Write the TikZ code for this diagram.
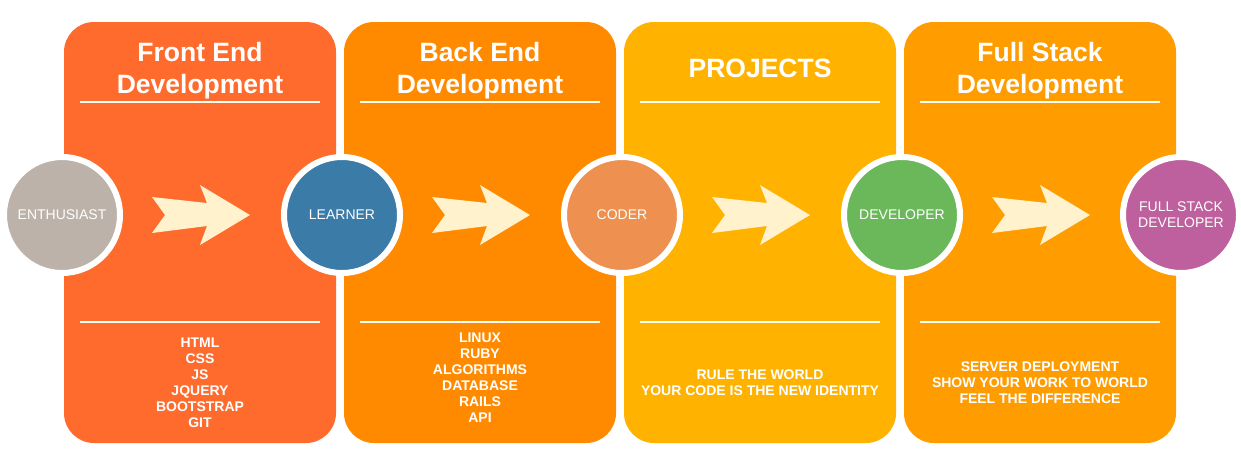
\documentclass[tikz,border=0pt]{standalone}
\usepackage{fontspec}
\setmainfont{Liberation Sans}
\begin{document}
\definecolor{frontc}{HTML}{FF6B2C}
\definecolor{backc}{HTML}{FF8A00}
\definecolor{projc}{HTML}{FFB200}
\definecolor{fullc}{HTML}{FF9C00}
\definecolor{enthc}{HTML}{BCB2A9}
\definecolor{learnc}{HTML}{3A7BA8}
\definecolor{coderc}{HTML}{EE9150}
\definecolor{devc}{HTML}{6BB85A}
\definecolor{fsdc}{HTML}{BE609E}
\definecolor{arrowc}{HTML}{FFF2CC}
\begin{tikzpicture}[x=1pt,y=-1pt,
  panel/.style={rounded corners=30pt, minimum width=272pt, minimum height=421pt, inner sep=0pt},
  title/.style={text=white, font=\fontsize{26.5}{32}\selectfont\bfseries, anchor=base},
  rule/.style={draw=white!95!yellow, line width=2pt},
  items/.style={text=white, font=\fontsize{14}{16}\selectfont\bfseries, align=center, inner sep=0pt},
  stage/.style={circle, draw=white, line width=6pt, minimum size=116pt, inner sep=0pt,
    text=white, font=\fontsize{14}{16}\selectfont, align=center},
  chevron/.style={fill=arrowc}
]
\useasboundingbox (0,0) rectangle (1241,451);
\fill[white] (0,0) rectangle (1241,451);

% Four stage panels
\node[panel, fill=frontc] (p1) at (200,232.5) {};
\node[panel, fill=backc]  (p2) at (480,232.5) {};
\node[panel, fill=projc]  (p3) at (760,232.5) {};
\node[panel, fill=fullc]  (p4) at (1040,232.5) {};

% Panel headings
\node[title] (t1a) at (200,61.5) {Front End};
\node[title] (t1b) at (200,93.5) {Development};
\node[title] (t2a) at (480,61.5) {Back End};
\node[title] (t2b) at (480,93.5) {Development};
\node[title] (t3a) at (760,77.5) {PROJECTS};
\node[title] (t4a) at (1040,61.5) {Full Stack};
\node[title] (t4b) at (1040,93.5) {Development};

% Separator rules
\foreach \cx in {200,480,760,1040} {
  \draw[rule] (\cx-120,102) -- (\cx+120,102);
  \draw[rule] (\cx-120,322) -- (\cx+120,322);
}

% Topic lists
\node[items] (l1) at (200,383) {HTML\\CSS\\JS\\JQUERY\\BOOTSTRAP\\GIT};
\node[items] (l2) at (480,378) {LINUX\\RUBY\\ALGORITHMS\\DATABASE\\RAILS\\API};
\node[items] (l3) at (760,383) {RULE THE WORLD\\YOUR CODE IS THE NEW IDENTITY};
\node[items] (l4) at (1040,383) {SERVER DEPLOYMENT\\SHOW YOUR WORK TO WORLD\\FEEL THE DIFFERENCE};

% Progress arrows between stages
\foreach \ax in {201,481,761,1041} {
  \fill[chevron, shift={(\ax,215)}]
    (-49,-18) -- (6,-12) -- (-1,-30) -- (49,0) -- (-1,30) -- (6,11)
    -- (-49,18) -- (-36,0) -- cycle;
}

% Stage circles
\node[stage, fill=enthc]  (s1) at (62,215)   {ENTHUSIAST};
\node[stage, fill=learnc] (s2) at (342,215)  {LEARNER};
\node[stage, fill=coderc] (s3) at (622,215)  {CODER};
\node[stage, fill=devc]   (s4) at (902,215)  {DEVELOPER};
\node[stage, fill=fsdc]   (s5) at (1181,215) {FULL STACK\\DEVELOPER};
\end{tikzpicture}
\end{document}
